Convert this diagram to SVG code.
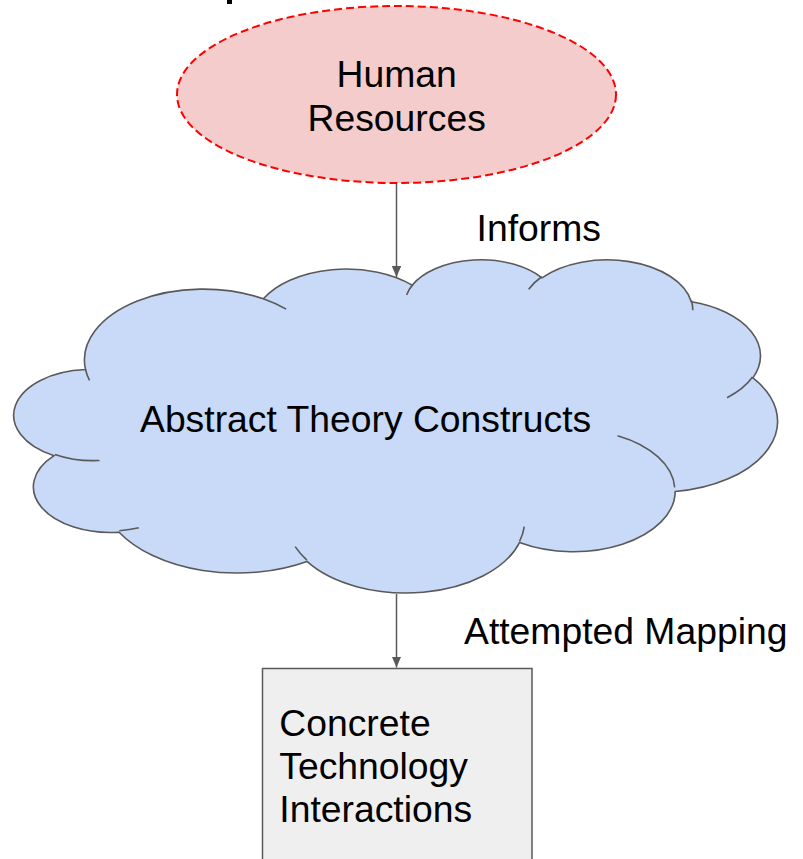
<svg xmlns="http://www.w3.org/2000/svg" width="803" height="859" viewBox="0 0 803 859">
<style>
.t{font-family:"Liberation Sans",Arial,sans-serif;font-size:37.3px;fill:#000}
.c{text-anchor:middle}
.ln{stroke:#595959;stroke-width:1.5;fill:none}
</style>
<defs>
<marker id="ah" markerUnits="userSpaceOnUse" markerWidth="12" markerHeight="10" refX="11" refY="4.7" orient="auto">
<path d="M0,0 L11,4.7 L0,9.4 Z" fill="#595959"/>
</marker>
</defs>
<rect x="227" y="0" width="5" height="4" fill="#000"/>
<g id="connectors">
<line class="ln" x1="396.5" y1="184" x2="396.5" y2="277" marker-end="url(#ah)"/>
<line class="ln" x1="396.5" y1="594" x2="396.5" y2="667.5" marker-end="url(#ah)"/>
<text class="t" x="476.6" y="241">Informs</text>
<text class="t" x="464" y="644">Attempted Mapping</text>
</g>
<g id="human-resources">
<ellipse cx="396.5" cy="94.5" rx="219.5" ry="88.5" fill="#f4cccc" stroke="#ff0000" stroke-width="2" stroke-dasharray="8,4"/>
<text class="t c" x="396.7" y="87.3">Human</text>
<text class="t c" x="396.7" y="131">Resources</text>
</g>
<g id="abstract-theory">
<path d="M 85.54 369.49 A 118.85 70.85 0 0 1 263.39 298.81 A 93.86 56.03 0 0 1 412.13 285.16 A 76.82 45.84 0 0 1 541.96 277.83 A 85.48 50.85 0 0 1 691.30 301.69 A 93.86 56.07 0 0 1 752.90 377.90 A 119.24 71.09 0 0 1 675.22 491.57 A 101.82 60.65 0 0 1 519.49 542.53 A 118.84 71.05 0 0 1 306.96 561.43 A 135.87 81.29 0 0 1 119.07 532.18 A 76.74 45.63 0 0 1 54.10 455.68 A 76.47 45.84 0 0 1 85.54 369.49 Z" fill="#c9daf8" stroke="#595959" stroke-width="1.6"/>
<path fill="none" stroke="#595959" stroke-width="1.6" d="M 99.50 460.52 A 76.47 45.84 0 0 1 54.91 454.38 M 138.83 527.77 A 76.74 45.63 0 0 1 119.33 530.71 M 306.91 560.08 A 118.84 71.05 0 0 1 295.16 546.67 M 524.26 526.63 A 118.84 71.05 0 0 1 519.56 541.35 M 617.57 435.68 A 101.82 60.65 0 0 1 674.69 487.42 M 752.54 377.08 A 93.86 56.07 0 0 1 727.06 397.71 M 691.40 300.53 A 85.48 50.85 0 0 1 692.75 310.28 M 528.67 289.17 A 85.48 50.85 0 0 1 541.72 276.74 M 406.58 295.09 A 76.82 45.84 0 0 1 412.90 284.38 M 263.30 298.73 A 118.85 70.85 0 0 1 286.18 309.13 M 89.5 380.4 A 118.85 70.85 0 0 1 85.5 369.5"/>
<text class="t" x="140" y="431.7">Abstract Theory Constructs</text>
</g>
<g id="concrete-technology">
<rect x="262.5" y="668.5" width="269.5" height="230" fill="#efefef" stroke="#595959" stroke-width="1.5"/>
<text class="t" x="279.3" y="735.7">Concrete</text>
<text class="t" x="279.3" y="778.7">Technology</text>
<text class="t" x="279.3" y="821.7">Interactions</text>
</g>
</svg>
